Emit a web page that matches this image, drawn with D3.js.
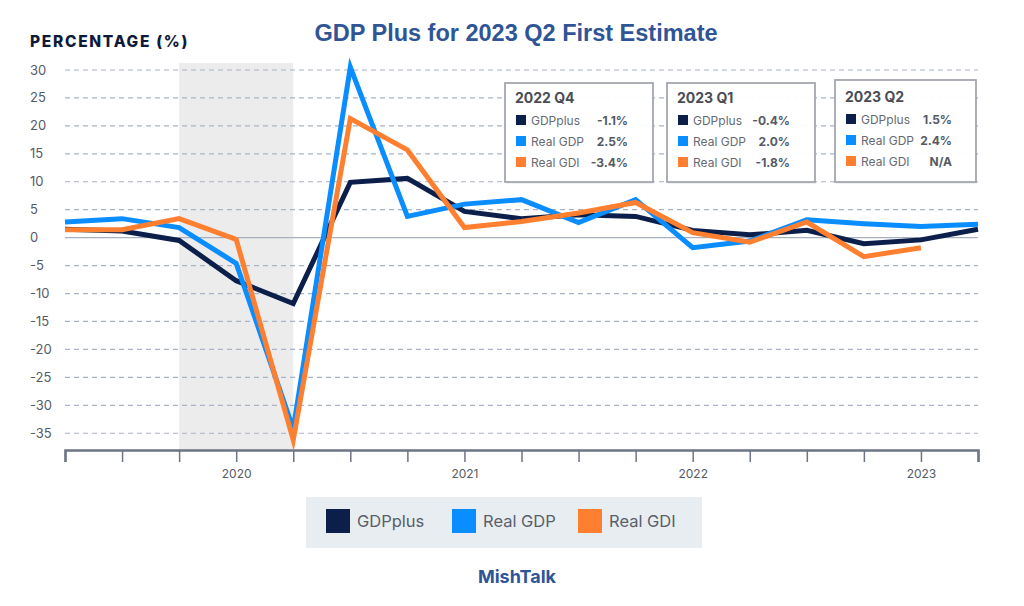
<!DOCTYPE html>
<html>
<head>
<meta charset="utf-8">
<script src="https://cdn.jsdelivr.net/npm/d3@7"></script>
<style>
  html, body { margin: 0; padding: 0; background: #ffffff; }
  svg { display: block; }
</style>
</head>
<body>
<svg id="chart" width="1024" height="606"></svg>
<script>
// ---- Data ----
const quarters = ["2019 Q2","2019 Q3","2019 Q4","2020 Q1","2020 Q2","2020 Q3","2020 Q4",
  "2021 Q1","2021 Q2","2021 Q3","2021 Q4","2022 Q1","2022 Q2","2022 Q3","2022 Q4","2023 Q1","2023 Q2"];
const gdpPlus = [1.5, 1.2, -0.5, -7.7, -11.8, 9.9, 10.6, 4.7, 3.4, 4.1, 3.8, 1.3, 0.5, 1.3, -1.1, -0.4, 1.5];
const realGDP = [2.8, 3.4, 1.8, -4.6, -34.2, 30.5, 3.8, 6.0, 6.8, 2.7, 6.8, -1.8, -0.6, 3.2, 2.5, 2.0, 2.4];
const realGDI = [1.4, 1.4, 3.4, -0.3, -36.2, 21.3, 15.7, 1.8, 2.9, 4.4, 6.3, 0.9, -0.8, 2.8, -3.4, -1.8, null];
const yTicks = [30, 25, 20, 15, 10, 5, 0, -5, -10, -15, -20, -25, -30, -35];
const recession = ["2019 Q4", "2020 Q2"];
const seriesNames = ["GDPplus", "Real GDP", "Real GDI"];
const seriesColors = ["#0b1f4a", "#0a8dff", "#fd7f2f"];
const tooltipQuarters = ["2022 Q4", "2023 Q1", "2023 Q2"];
const tooltipValues = [
  ["-1.1%", "2.5%", "-3.4%"],
  ["-0.4%", "2.0%", "-1.8%"],
  ["1.5%", "2.4%", "N/A"]
];

// ---- Setup ----
const svg = d3.select("#chart");
const x = d3.scalePoint().domain(quarters).range([65, 978]);
const y = d3.scaleLinear().domain([-38, 30]).range([450, 70]);

// Title
svg.append("text").attr("x", 516).attr("y", 41).attr("text-anchor", "middle")
  .attr("font-family", "Liberation Sans, Arial, sans-serif").attr("font-weight", "bold")
  .attr("font-size", 23.5).attr("fill", "#2f5597").text("GDP Plus for 2023 Q2 First Estimate");

svg.append("text").attr("x", 30).attr("y", 47)
  .attr("font-family", "Inter, sans-serif").attr("font-weight", 800)
  .attr("font-size", 15.5).attr("letter-spacing", 1.7).attr("fill", "#0d1a3a").text("PERCENTAGE (%)");

// Recession shading
svg.append("rect").attr("x", x(recession[0])).attr("y", 63)
  .attr("width", x(recession[1]) - x(recession[0])).attr("height", 450 - 63)
  .attr("fill", "#ececec");

// Grid lines
svg.append("g").selectAll("line").data(yTicks.filter(d => d !== 0)).join("line")
  .attr("x1", 65).attr("x2", 978).attr("y1", d => y(d)).attr("y2", d => y(d))
  .attr("stroke", "#aab2c5").attr("stroke-width", 1.2).attr("stroke-dasharray", "5,4");
svg.append("line").attr("x1", 65).attr("x2", 978).attr("y1", y(0)).attr("y2", y(0))
  .attr("stroke", "#a9b0bd").attr("stroke-width", 1.2);

// Y labels
svg.append("g").selectAll("text").data(yTicks).join("text")
  .attr("x", 30).attr("y", d => y(d) + 4.5)
  .attr("font-family", "Inter, sans-serif").attr("font-size", 13).attr("fill", "#555b66")
  .text(d => d);

// X axis
const xAxis = d3.axisBottom(x).tickSize(12).tickPadding(7)
  .tickFormat(d => d.endsWith("Q1") ? d.slice(0, 4) : "");
const gx = svg.append("g").attr("transform", "translate(0,450)").call(xAxis);
gx.select(".domain").attr("stroke", "#6d7483").attr("stroke-width", 2.5);
gx.selectAll(".tick line").attr("stroke", "#6d7483").attr("stroke-width", 1.5);
gx.selectAll(".tick text").attr("font-family", "Inter, sans-serif").attr("font-size", 12).attr("fill", "#555b66");

// Lines
const seriesData = [gdpPlus, realGDP, realGDI];
const line = d3.line().defined(d => d.v !== null).x(d => x(d.q)).y(d => y(d.v));
seriesData.forEach((vals, i) => {
  const pts = quarters.map((q, j) => ({ q, v: vals[j] }));
  svg.append("path").datum(pts).attr("d", line)
    .attr("fill", "none").attr("stroke", seriesColors[i]).attr("stroke-width", 5)
    .attr("stroke-linejoin", "miter").attr("stroke-miterlimit", 10);
});

// Tooltip boxes
const boxes = [
  { x: 505, y: 83, w: 148, h: 99 },
  { x: 667, y: 83, w: 148, h: 99 },
  { x: 835, y: 80, w: 141, h: 102 }
];
boxes.forEach((b, i) => {
  const g = svg.append("g").attr("transform", `translate(${b.x},${b.y})`);
  g.append("rect").attr("x", 1).attr("y", 2).attr("width", b.w).attr("height", b.h)
    .attr("fill", "#000").attr("opacity", 0.06);
  g.append("rect").attr("width", b.w).attr("height", b.h)
    .attr("fill", "#fff").attr("fill-opacity", 0.95)
    .attr("stroke", "#a3a7ae").attr("stroke-width", 1.8);
  const dy = i === 2 ? 2 : 0;
  g.append("text").attr("x", 10).attr("y", 20 + dy)
    .attr("font-family", "Inter, sans-serif").attr("font-weight", 700)
    .attr("font-size", 14).attr("fill", "#4a4d55").text(tooltipQuarters[i]);
  seriesNames.forEach((n, k) => {
    const ry = 33 + k * 21 + dy;
    g.append("rect").attr("x", 11).attr("y", ry - 1).attr("width", 10).attr("height", 10)
      .attr("fill", seriesColors[k]);
    g.append("text").attr("x", 26).attr("y", ry + 8.5)
      .attr("font-family", "Inter, sans-serif").attr("font-size", 12).attr("fill", "#666a73").text(n);
    g.append("text").attr("x", b.w - (i === 2 ? 24 : 25)).attr("y", ry + 8.5).attr("text-anchor", "end")
      .attr("font-family", "Inter, sans-serif").attr("font-weight", 700)
      .attr("font-size", 12).attr("fill", "#555a63").text(tooltipValues[i][k]);
  });
});

// Legend
svg.append("rect").attr("x", 306).attr("y", 497).attr("width", 396).attr("height", 51).attr("fill", "#e8edf2");
const legendX = [326, 452, 578];
seriesNames.forEach((n, i) => {
  svg.append("rect").attr("x", legendX[i]).attr("y", 509).attr("width", 24).attr("height", 24)
    .attr("fill", seriesColors[i]);
  svg.append("text").attr("x", legendX[i] + 31).attr("y", 527)
    .attr("font-family", "Inter, sans-serif").attr("font-size", 16.5).attr("fill", "#5a5f69").text(n);
});

// Footer
svg.append("text").attr("x", 517).attr("y", 583).attr("text-anchor", "middle")
  .attr("font-family", "Inter, sans-serif").attr("font-weight", 700)
  .attr("font-size", 18).attr("fill", "#2f5597").text("MishTalk");
</script>
</body>
</html>
